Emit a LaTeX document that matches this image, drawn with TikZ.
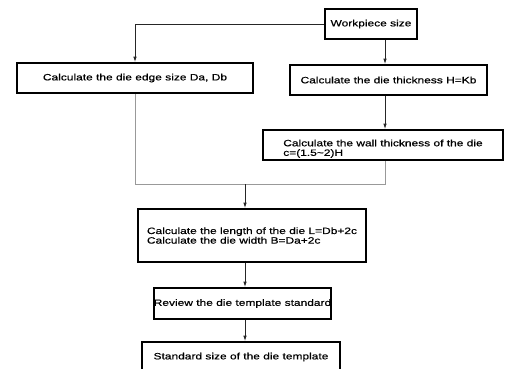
\documentclass[tikz,border=0pt]{standalone}
\usepackage{fontspec}
\setmainfont{Liberation Sans}[FakeStretch=1.3,FakeBold=0.5]
\usetikzlibrary{arrows.meta}
\begin{document}
\begin{tikzpicture}[x=1pt,y=-1pt,
  box/.style={draw=black, line width=1.7pt, rectangle, inner sep=0pt, font=\fontsize{9.2}{9.6}\selectfont},
  arr/.style={draw=black!85, line width=0.9pt, -{Latex[length=5.5pt,width=3.5pt]}},
  gline/.style={draw=black!40, line width=0.9pt}]
\useasboundingbox (0,0) rectangle (505,368);
\node[box, minimum width=92pt, minimum height=30pt] (ws) at (371,24) {Workpiece size};
\node[box, minimum width=236pt, minimum height=30pt] (da) at (135,78) {Calculate the die edge size Da, Db};
\node[box, minimum width=197pt, minimum height=30pt] (hk) at (388.5,80) {Calculate the die thickness H=Kb};
\node[box, minimum width=240pt, minimum height=30pt, align=left] (wall) at (383,145) {\rule{0pt}{14pt}Calculate the wall thickness of the die\\c=(1.5\textasciitilde 2)H};
\node[box, minimum width=228pt, minimum height=53pt, align=left] (lb) at (252,235.5) {Calculate the length of the die L=Db+2c\\Calculate the die width B=Da+2c};
\node[box, minimum width=177pt, minimum height=31pt] (rv) at (242.5,303.5) {Review the die template standard};
\node[box, minimum width=198pt, minimum height=30pt] (st) at (241,357) {Standard size of the die template};
\coordinate (ax) at (385,0);
\coordinate (jn) at (245,184);
\draw[arr] (ws.west) -| (da.north);
\draw[arr] (ws.south -| ax) -- (hk.north -| ax);
\draw[arr] (hk.south -| ax) -- (wall.north -| ax);
\draw[gline] (da.south) -- (da.south |- jn) -- (jn -| ax) -- (wall.south -| ax);
\draw[arr] (jn) -- (lb.north -| jn);
\draw[arr] (lb.south -| jn) -- (rv.north -| jn);
\draw[arr] (rv.south -| jn) -- (st.north -| jn);
\end{tikzpicture}
\end{document}
